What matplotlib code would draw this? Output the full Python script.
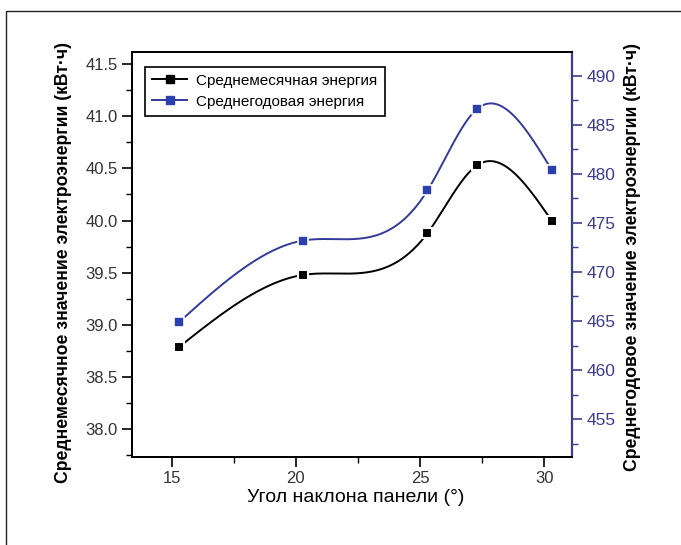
import numpy as np
import matplotlib
matplotlib.use("Agg")
import matplotlib.pyplot as plt
from matplotlib.patches import Rectangle
from matplotlib.ticker import MultipleLocator

# ---- data ----
angles = [15.3, 20.3, 25.3, 27.3, 30.3]
monthly = [38.79, 39.48, 39.88, 40.53, 40.00]
yearly = [464.9, 473.2, 478.3, 486.6, 480.4]

xlabel = "Угол наклона панели (°)"
ylabel_left = "Среднемесячное значение электроэнергии (кВт·ч)"
ylabel_right = "Среднегодовое значение электроэнергии (кВт·ч)"
label_monthly = "Среднемесячная энергия"
label_yearly = "Среднегодовая энергия"


def natural_spline(x, y, xs):
    x = np.asarray(x, float); y = np.asarray(y, float)
    n = len(x); h = np.diff(x)
    A = np.zeros((n, n)); b = np.zeros(n)
    A[0, 0] = 1; A[-1, -1] = 1
    for i in range(1, n - 1):
        A[i, i - 1] = h[i - 1]
        A[i, i] = 2 * (h[i - 1] + h[i])
        A[i, i + 1] = h[i]
        b[i] = 6 * ((y[i + 1] - y[i]) / h[i] - (y[i] - y[i - 1]) / h[i - 1])
    M = np.linalg.solve(A, b)
    out = np.empty_like(xs)
    for k, xv in enumerate(xs):
        i = min(max(np.searchsorted(x, xv) - 1, 0), n - 2)
        t1 = x[i + 1] - xv; t0 = xv - x[i]
        out[k] = (M[i] * t1 ** 3 / (6 * h[i]) + M[i + 1] * t0 ** 3 / (6 * h[i])
                  + (y[i] / h[i] - M[i] * h[i] / 6) * t1
                  + (y[i + 1] / h[i] - M[i + 1] * h[i] / 6) * t0)
    return out


plt.rcParams['font.family'] = ['Liberation Sans', 'DejaVu Sans']

blue_line = '#34399a'
blue_mark = '#2b3fae'
blue_axis = '#3d3d8e'
tick_grey = '#333333'

fig = plt.figure(figsize=(6.81, 5.45), dpi=100)
ax = fig.add_axes([132 / 681, 1 - 456.5 / 545, (572 - 132) / 681, (456.5 - 52) / 545])
ax2 = ax.twinx()

xs = np.linspace(angles[0], angles[-1], 400)
ax.plot(xs, natural_spline(angles, monthly, xs), color='black', lw=1.4, zorder=2)
ax.plot(angles, monthly, ls='none', marker='s', ms=7, mfc='black', mec='white', mew=1.5, zorder=3)
ax2.plot(xs, natural_spline(angles, yearly, xs), color=blue_line, lw=1.4, zorder=2)
ax2.plot(angles, yearly, ls='none', marker='s', ms=7, mfc=blue_mark, mec='white', mew=1.2, zorder=3)

ax.set_xlim(13.4, 31.12)
ax.set_ylim(37.74, 41.615)
ax2.set_ylim(451.2, 492.4)

ax.xaxis.set_major_locator(MultipleLocator(5))
ax.xaxis.set_minor_locator(MultipleLocator(2.5))
ax.yaxis.set_major_locator(MultipleLocator(0.5))
ax.yaxis.set_minor_locator(MultipleLocator(0.25))
ax2.yaxis.set_major_locator(MultipleLocator(5))
ax2.yaxis.set_minor_locator(MultipleLocator(2.5))

ax.tick_params(axis='both', which='major', direction='out', length=7, width=1.2,
               labelsize=12, labelcolor=tick_grey)
ax.tick_params(axis='both', which='minor', direction='out', length=4, width=1.0)
ax.tick_params(axis='x', top=False, which='both')
ax.yaxis.set_major_formatter(matplotlib.ticker.FormatStrFormatter('%.1f'))
ax2.tick_params(axis='y', which='major', direction='out', length=7, width=1.2,
                labelsize=12.5, colors=blue_axis)
ax2.tick_params(axis='y', which='minor', direction='out', length=4, width=1.0, colors=blue_axis)

for s in ['left', 'bottom', 'top']:
    ax.spines[s].set_linewidth(1.3)
    ax2.spines[s].set_linewidth(1.3)
ax2.spines['right'].set_color(blue_axis)
ax2.spines['right'].set_linewidth(1.6)
ax.spines['right'].set_visible(False)

ax.set_xlabel(xlabel, fontsize=14)
ax.xaxis.set_label_coords((356 - 132) / 440, -(497.5 - 456.5) / 404.5)
ax.xaxis.label.set_verticalalignment('center')
ax.set_ylabel(ylabel_left, fontsize=12.7, fontweight='bold')
ax.yaxis.set_label_coords(-(132 - 64) / 440, (456.5 - 262.5) / 404.5)
ax.yaxis.label.set_verticalalignment('center')
ax2.set_ylabel(ylabel_right, fontsize=12.7, fontweight='bold')
ax2.yaxis.set_label_coords((632 - 132) / 440, (456.5 - 257) / 404.5)
ax2.yaxis.label.set_verticalalignment('center')

h1 = matplotlib.lines.Line2D([], [], color='black', lw=1.4, marker='s', ms=6, mfc='black', mec='black')
h2 = matplotlib.lines.Line2D([], [], color=blue_line, lw=1.4, marker='s', ms=6, mfc=blue_mark, mec=blue_mark)
leg = ax.legend([h1, h2], [label_monthly, label_yearly], loc='upper left',
                bbox_to_anchor=(0.03, 0.963), fontsize=11, frameon=True, fancybox=False,
                edgecolor='black', framealpha=1, borderpad=0.45, labelspacing=0.45,
                handlelength=2.3, handletextpad=0.6, borderaxespad=0)
leg.get_frame().set_linewidth(1.2)
leg.set_zorder(5)

fig.add_artist(Rectangle((6 / 681, -0.1), 1.2, 1.1 - 11 / 545, transform=fig.transFigure,
                         fill=False, edgecolor='#222222', lw=1.0))

fig.savefig('out.png', dpi=100)
